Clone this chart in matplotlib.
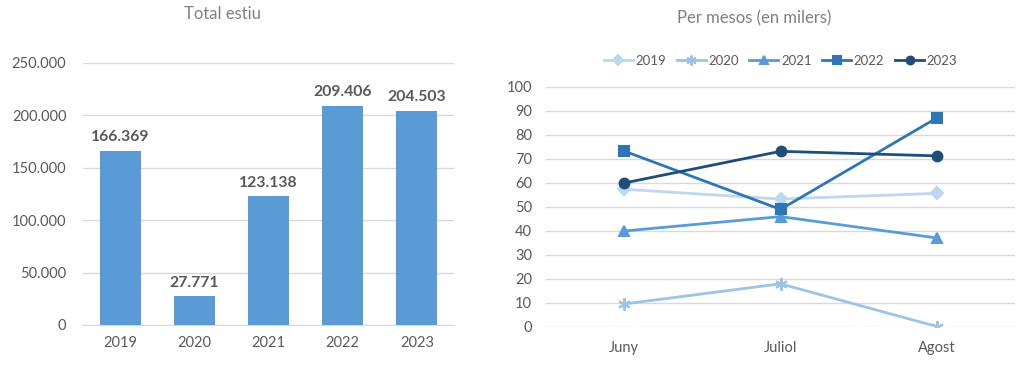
import matplotlib
matplotlib.use('Agg')
import matplotlib.pyplot as plt
import numpy as np

plt.rcParams['font.family'] = ['Lato', 'DejaVu Sans']

# Total estiu
years = ['2019', '2020', '2021', '2022', '2023']
totals = [166369, 27771, 123138, 209406, 204503]
total_labels = ['166.369', '27.771', '123.138', '209.406', '204.503']
y_ticks_left = [0, 50000, 100000, 150000, 200000, 250000]
y_ticklabels_left = ['0', '50.000', '100.000', '150.000', '200.000', '250.000']

# Per mesos (en milers)
months = ['Juny', 'Juliol', 'Agost']
s2019 = [57.4, 53.3, 55.7]
s2020 = [9.6, 18.0, 0.2]
s2021 = [40.0, 46.0, 37.1]
s2022 = [73.3, 49.0, 87.1]
s2023 = [60.0, 73.2, 71.3]

TXT = '#595959'
GRID = '#D9D9D9'

fig = plt.figure(figsize=(10.24, 3.68), dpi=100)
fig.patch.set_facecolor('white')

# Chart 1: bars
ax1 = fig.add_axes([83/1024, 1-325/368, (454-83)/1024, (325-63)/368])
x = np.arange(len(years))
ax1.bar(x, totals, width=0.55, color='#5B9BD5', zorder=3)
for i, (v, lab) in enumerate(zip(totals, total_labels)):
    ax1.text(i, v + 6000, lab, ha='center', va='bottom', fontsize=11.3,
             fontweight='bold', color=TXT)
ax1.set_xlim(-0.5, len(years) - 0.5)
ax1.set_ylim(0, 250000)
ax1.set_yticks(y_ticks_left)
ax1.set_yticklabels(y_ticklabels_left)
ax1.set_xticks(x)
ax1.set_xticklabels(years)
ax1.yaxis.grid(True, color=GRID, linewidth=1, zorder=0)
ax1.tick_params(length=0, colors=TXT, labelsize=10.5)
ax1.tick_params(axis='y', pad=12)
ax1.tick_params(axis='x', pad=8)
for s in ax1.spines.values():
    s.set_visible(False)
ax1.spines['bottom'].set_visible(True)
ax1.spines['bottom'].set_color(GRID)
fig.text(222/1024, 1-14/368, 'Total estiu', ha='center', va='center',
         fontsize=12, color='#7F7F7F')

# Chart 2: lines
ax2 = fig.add_axes([546/1024, 1-327/368, (1015-546)/1024, (327-87)/368])
xm = np.arange(len(months))
series = [
    ('2019', s2019, '#BDD7EE', 'D', 6),
    ('2020', s2020, '#9DC3E6', (6, 2, 0), 9),
    ('2021', s2021, '#5B9BD5', '^', 7),
    ('2022', s2022, '#2E75B6', 's', 7),
    ('2023', s2023, '#1F4E79', 'o', 7),
]
for name, vals, col, mk, ms in series:
    ax2.plot(xm, vals, color=col, marker=mk, markersize=ms, linewidth=2,
             markeredgewidth=1.5, label=name, zorder=3)
ax2.set_xlim(-0.5, len(months) - 0.5)
ax2.set_ylim(0, 100)
ax2.set_yticks(np.arange(0, 101, 10))
ax2.set_xticks(xm)
ax2.set_xticklabels(months)
ax2.yaxis.grid(True, color=GRID, linewidth=1, zorder=0)
ax2.tick_params(length=0, colors=TXT, labelsize=10.5)
ax2.tick_params(axis='y', pad=10)
ax2.tick_params(axis='x', pad=10)
for s in ax2.spines.values():
    s.set_visible(False)
leg = ax2.legend(loc='center', bbox_to_anchor=(0.5, 1 + (87-61)/240), ncol=5,
                 frameon=False, fontsize=9.5, handlelength=2.2,
                 columnspacing=0.8, handletextpad=0.2, markerscale=0.8)
for t in leg.get_texts():
    t.set_color(TXT)
fig.text(754/1024, 1-18/368, 'Per mesos (en milers)', ha='center', va='center',
         fontsize=12, color='#7F7F7F')

plt.savefig('out.png', dpi=100, facecolor='white')
print('Saved: out.png')
